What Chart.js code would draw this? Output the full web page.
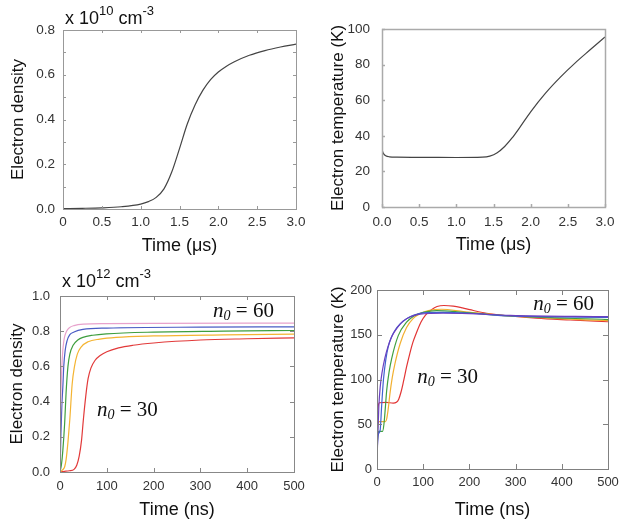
<!DOCTYPE html>
<html>
<head>
<meta charset="utf-8">
<script src="https://cdn.jsdelivr.net/npm/chart.js@4.4.1/dist/chart.umd.min.js"></script>
<style>
  body { margin: 0; background: #fff; }
  #wrap { position: relative; width: 629px; height: 527px; background: #fff; }
  canvas { position: absolute; }
</style>
</head>
<body>
<div id="wrap">
  <canvas id="c1" width="312" height="262" style="left:0px;top:0px"></canvas>
  <canvas id="c2" width="317" height="262" style="left:312px;top:0px"></canvas>
  <canvas id="c3" width="312" height="265" style="left:0px;top:262px"></canvas>
  <canvas id="c4" width="317" height="265" style="left:312px;top:262px"></canvas>
</div>
<script>
// top left: electron density (x 10^10 cm^-3) vs time (us)
const densTimeUs = [0, 0.25, 0.5, 0.75, 1.0, 1.1, 1.2, 1.3, 1.4, 1.5, 1.6, 1.7, 1.8, 1.9, 2.0, 2.1, 2.2, 2.4, 2.6, 2.8, 3.0];
const densValues = [0.002, 0.003, 0.005, 0.01, 0.022, 0.033, 0.052, 0.09, 0.165, 0.27, 0.38, 0.465, 0.53, 0.578, 0.612, 0.637, 0.657, 0.687, 0.708, 0.724, 0.737];

// top right: electron temperature (K) vs time (us)
const tempTimeUs = [0, 0.02, 0.05, 0.1, 0.2, 0.6, 1.0, 1.35, 1.45, 1.55, 1.65, 1.75, 1.85, 2.0, 2.2, 2.4, 2.6, 2.8, 3.0];
const tempValues = [32, 30, 28.8, 28.2, 28, 27.9, 27.8, 28, 28.6, 30.5, 34, 38.8, 44.5, 53.5, 64, 73, 81, 88.3, 95.5];

// bottom left: electron density (x 10^12 cm^-3) vs time (ns), one curve per n0
const nPinkT   = [0, 1, 2, 4, 6, 8, 10, 14, 20, 30, 50, 100, 200, 500];
const nPink    = [0, 0.3, 0.45, 0.6, 0.69, 0.74, 0.77, 0.80, 0.82, 0.832, 0.84, 0.843, 0.845, 0.846];
const nBlueT   = [0, 1, 2, 4, 6, 8, 11, 15, 21, 30, 49, 100, 300, 500];
const nBlue    = [0, 0.1, 0.22, 0.38, 0.48, 0.6, 0.69, 0.745, 0.78, 0.795, 0.81, 0.818, 0.823, 0.825];
const nGreenT  = [0, 3, 6, 10, 13, 17, 21, 28, 38, 49, 70, 99, 200, 350, 500];
const nGreen   = [0, 0.04, 0.12, 0.28, 0.45, 0.6, 0.67, 0.72, 0.75, 0.765, 0.777, 0.785, 0.795, 0.80, 0.804];
const nOrangeT = [0, 6, 10, 13, 17, 21, 26, 31, 37, 45, 60, 85, 120, 200, 350, 500];
const nOrange  = [0, 0.013, 0.03, 0.07, 0.17, 0.3, 0.5, 0.6, 0.67, 0.71, 0.74, 0.755, 0.765, 0.773, 0.779, 0.783];
const nRedT    = [0, 10, 20, 30, 36, 41, 46, 50, 55, 60, 66, 75, 85, 100, 125, 156, 200, 300, 400, 500];
const nRed     = [0.002, 0.004, 0.007, 0.015, 0.04, 0.09, 0.18, 0.3, 0.43, 0.53, 0.59, 0.635, 0.66, 0.683, 0.705, 0.72, 0.733, 0.75, 0.757, 0.762];

// bottom right: electron temperature (K) vs time (ns)
const tRedT    = [0, 2, 5, 20, 35, 42, 47, 52, 57, 64, 71, 78, 86, 95, 105, 118, 130, 145, 165, 185, 201, 237, 288, 345, 418, 500];
const tRed     = [56, 68, 74, 74.5, 73.5, 74.5, 78, 86, 97, 114, 129, 142, 153, 164, 172, 178, 181.5, 182.7, 182, 180, 178, 174, 171, 168.5, 166.5, 164.5];
const tOrangeT = [0, 2, 4, 18, 21, 24, 28, 33, 39, 50, 64, 78, 95, 111, 140, 187, 288, 500];
const tOrange  = [36, 50, 53, 53, 56, 66, 84, 102, 118, 140, 158, 168, 174, 177, 178.5, 176, 171, 165.7];
const tGreenT  = [0, 2, 4, 12, 15, 18, 21, 26, 32, 46, 64, 80, 100, 129, 187, 288, 500];
const tGreen   = [25, 38, 42, 42, 50, 68, 88, 108, 124, 149, 164, 171, 175, 177, 175, 171, 167];
const tBlueT   = [0, 2, 4, 7, 10, 14, 19, 24, 31, 39, 50, 64, 80, 100, 143, 200, 288, 500];
const tBlue    = [17, 36, 40, 44, 70, 100, 122, 136, 147, 155, 162, 168, 172, 174.5, 175, 174, 171, 169.5];
const tPurpleT = [0, 2, 4, 7, 11, 17, 24, 32, 44, 57, 75, 93, 143, 200, 288, 500];
const tPurple  = [10, 40, 70, 92, 108, 124, 137, 148, 158, 165.5, 170.5, 173, 174, 173.5, 171.7, 170.2];

const SANS = '"Liberation Sans", Arial, sans-serif';
const SERIF = '"Liberation Serif", "Times New Roman", serif';

function toPoints(xs, ys) {
  return xs.map((x, i) => ({ x: x, y: ys[i] }));
}

function line(xs, ys, color, width) {
  return {
    data: toPoints(xs, ys),
    borderColor: color,
    borderWidth: width || 1.2,
    pointRadius: 0,
    fill: false,
    cubicInterpolationMode: 'monotone'
  };
}

// box round the plot with short inward tick marks
const framePlugin = {
  id: 'frame',
  afterDatasetsDraw(chart, args, opts) {
    const { ctx, chartArea: a, scales: { x, y } } = chart;
    ctx.save();
    ctx.strokeStyle = opts.color;
    ctx.lineWidth = opts.width;
    ctx.strokeRect(a.left + 0.5, a.top + 0.5, a.right - a.left, a.bottom - a.top);
    const len = opts.tickLen;
    ctx.beginPath();
    x.ticks.forEach(t => {
      const px = Math.round(x.getPixelForValue(t.value)) + 0.5;
      if (opts.sides.includes('b')) { ctx.moveTo(px, a.bottom); ctx.lineTo(px, a.bottom - len); }
      if (opts.sides.includes('t')) { ctx.moveTo(px, a.top); ctx.lineTo(px, a.top + len); }
    });
    y.ticks.forEach(t => {
      const py = Math.round(y.getPixelForValue(t.value)) + 0.5;
      if (opts.sides.includes('l')) { ctx.moveTo(a.left, py); ctx.lineTo(a.left + len, py); }
      if (opts.sides.includes('r')) { ctx.moveTo(a.right, py); ctx.lineTo(a.right - len, py); }
    });
    ctx.stroke();
    ctx.restore();
  }
};

// "x 10^N cm^-3" above the plot
const unitPlugin = {
  id: 'unit',
  afterDraw(chart, args, opts) {
    if (!opts.exp) return;
    const { ctx, chartArea: a } = chart;
    let x = a.left + 2;
    const y = a.top - opts.dy;
    ctx.save();
    ctx.fillStyle = '#111';
    ctx.textBaseline = 'alphabetic';
    const parts = [['x 10', false], [opts.exp, true], [' cm', false], ['-3', true]];
    parts.forEach(([s, sup]) => {
      ctx.font = (sup ? '13px ' : '18px ') + SANS;
      ctx.fillText(s, x, sup ? y - 9 : y);
      x += ctx.measureText(s).width;
    });
    ctx.restore();
  }
};

// "n0 = 30" style labels, placed in data coordinates
const n0Plugin = {
  id: 'n0',
  afterDraw(chart, args, opts) {
    if (!opts.labels) return;
    const { ctx, scales: { x, y } } = chart;
    ctx.save();
    ctx.fillStyle = '#111';
    ctx.textBaseline = 'alphabetic';
    opts.labels.forEach(l => {
      let px = x.getPixelForValue(l.x);
      const py = y.getPixelForValue(l.y);
      ctx.font = 'italic 21px ' + SERIF;
      ctx.fillText('n', px, py);
      px += ctx.measureText('n').width;
      ctx.font = 'italic 14px ' + SERIF;
      ctx.fillText('0', px, py + 3);
      px += ctx.measureText('0').width;
      ctx.font = '21px ' + SERIF;
      ctx.fillText(' = ' + l.text, px, py);
    });
    ctx.restore();
  }
};

function makeChart(id, cfg) {
  return new Chart(document.getElementById(id), {
    type: 'line',
    data: { datasets: cfg.datasets },
    options: {
      responsive: false,
      animation: false,
      layout: { padding: cfg.padding },
      plugins: {
        legend: { display: false },
        tooltip: { enabled: false },
        frame: cfg.frame,
        unit: cfg.unit || {},
        n0: cfg.n0 || {}
      },
      scales: {
        x: {
          type: 'linear',
          min: cfg.x.min, max: cfg.x.max,
          grid: { display: false, drawTicks: false },
          border: { display: false },
          afterFit: s => { s.height = cfg.x.height; },
          ticks: {
            stepSize: cfg.x.step, autoSkip: false, maxRotation: 0,
            padding: cfg.x.pad, color: '#333', font: { family: SANS, size: cfg.tickSize },
            callback: cfg.x.fmt
          },
          title: {
            display: true, text: cfg.x.title, color: '#111',
            font: { family: SANS, size: 18 }, padding: { top: 0, bottom: cfg.x.titlePad }
          }
        },
        y: {
          type: 'linear',
          min: cfg.y.min, max: cfg.y.max,
          grid: { display: false, drawTicks: false },
          border: { display: false },
          afterFit: s => { s.width = cfg.y.width; },
          ticks: {
            stepSize: cfg.y.step, autoSkip: false,
            padding: cfg.y.pad, color: '#333', font: { family: SANS, size: cfg.tickSize },
            callback: cfg.y.fmt
          },
          title: {
            display: true, text: cfg.y.title, color: '#111',
            font: { family: SANS, size: 17 }, padding: { top: cfg.y.titlePad, bottom: 0 }
          }
        }
      }
    },
    plugins: [framePlugin, unitPlugin, n0Plugin]
  });
}

makeChart('c1', {
  datasets: [line(densTimeUs, densValues, '#444')],
  padding: { left: 0, top: 30, right: 16, bottom: 0 },
  tickSize: 13.5,
  frame: { color: '#999', width: 1, tickLen: 3, sides: 'tblr' },
  unit: { exp: '10', dy: 6 },
  x: { min: 0, max: 3, step: 0.5, height: 53, pad: 5, titlePad: 5, title: 'Time (μs)',
       fmt: v => v === 0 ? '0' : v.toFixed(1) },
  y: { min: 0, max: 0.8, step: 0.1, width: 63, pad: 8, titlePad: 8, title: 'Electron density',
       fmt: v => Math.round(v * 10) % 2 === 0 ? v.toFixed(1) : '' }
});

makeChart('c2', {
  datasets: [line(tempTimeUs, tempValues, '#444')],
  padding: { left: 0, top: 29, right: 24, bottom: 0 },
  tickSize: 13.5,
  frame: { color: '#aaa', width: 1.5, tickLen: 3, sides: 'bl' },
  x: { min: 0, max: 3, step: 0.5, height: 55, pad: 7, titlePad: 6, title: 'Time (μs)',
       fmt: v => v.toFixed(1) },
  y: { min: 0, max: 100, step: 20, width: 70, pad: 12, titlePad: 16, title: 'Electron temperature (K)',
       fmt: v => String(v) }
});

makeChart('c3', {
  datasets: [
    line(nPinkT, nPink, '#e8a2cc'),
    line(nBlueT, nBlue, '#4a5cc4'),
    line(nGreenT, nGreen, '#3e9e3e'),
    line(nOrangeT, nOrange, '#f4b432'),
    line(nRedT, nRed, '#e23a3a')
  ],
  padding: { left: 0, top: 34, right: 18, bottom: 0 },
  tickSize: 13,
  frame: { color: '#888', width: 1, tickLen: 4, sides: 'tblr' },
  unit: { exp: '12', dy: 9 },
  n0: { labels: [{ x: 327, y: 0.882, text: '60' }, { x: 79, y: 0.32, text: '30' }] },
  x: { min: 0, max: 500, step: 100, height: 55, pad: 7, titlePad: 6, title: 'Time (ns)',
       fmt: v => String(v) },
  y: { min: 0, max: 1, step: 0.2, width: 60, pad: 10, titlePad: 7, title: 'Electron density',
       fmt: v => v.toFixed(1) }
});

makeChart('c4', {
  datasets: [
    line(tPurpleT, tPurple, '#6a3fc0'),
    line(tBlueT, tBlue, '#3f62d0'),
    line(tGreenT, tGreen, '#40a040'),
    line(tOrangeT, tOrange, '#f2b030'),
    line(tRedT, tRed, '#e23535')
  ],
  padding: { left: 0, top: 28, right: 21, bottom: 0 },
  tickSize: 13,
  frame: { color: '#808080', width: 1, tickLen: 5, sides: 'tblr' },
  n0: { labels: [{ x: 338, y: 177.7, text: '60' }, { x: 87, y: 95.8, text: '30' }] },
  x: { min: 0, max: 500, step: 100, height: 58, pad: 6, titlePad: 6, title: 'Time (ns)',
       fmt: v => String(v) },
  y: { min: 0, max: 200, step: 50, width: 65, pad: 5, titlePad: 16, title: 'Electron temperature (K)',
       fmt: v => String(v) }
});
</script>
</body>
</html>
